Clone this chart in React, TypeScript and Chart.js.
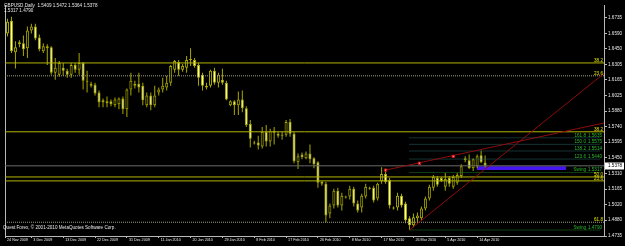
import React, { useEffect, useRef } from 'react';
import { Chart, registerables } from 'chart.js';

Chart.register(...registerables);

// ---------- data ----------
const symbol = 'GBPUSD';
const period = 'Daily';
const copyright = 'Quest Forex, \u00a9 2001-2010 MetaQuotes Software Corp.';

// one entry per daily bar, bar 0 = 24 Nov 2009 ... bar 122 = 16 Apr 2010
const opens = [
  1.6560, 1.6600, 1.6591, 1.6708, 1.6420, 1.6492, 1.6501, 1.6456, 1.6618, 1.6654,
  1.6555, 1.6429, 1.6474, 1.6465, 1.6231, 1.6212, 1.6276, 1.6249, 1.6212, 1.6303,
  1.6258, 1.6321, 1.6158, 1.6113, 1.6122, 1.6050, 1.5960, 1.5951, 1.5969, 1.5933,
  1.5942, 1.5996, 1.5897, 1.6077, 1.6131, 1.6131, 1.6113, 1.5933, 1.6023, 1.5933,
  1.6050, 1.6077, 1.6095, 1.6140, 1.6258, 1.6330, 1.6258, 1.6276, 1.6357, 1.6348,
  1.6303, 1.6212, 1.6095, 1.6113, 1.6249, 1.6140, 1.6167, 1.6140, 1.5933, 1.5969,
  1.5933, 1.5987, 1.5906, 1.5762, 1.5591, 1.5591, 1.5555, 1.5690, 1.5600, 1.5699,
  1.5672, 1.5654, 1.5663, 1.5780, 1.5672, 1.5411, 1.5483, 1.5447, 1.5492, 1.5447,
  1.5411, 1.5231, 1.5213, 1.4942, 1.5014, 1.5150, 1.5014, 1.5087, 1.5096, 1.5168,
  1.5032, 1.4996, 1.5096, 1.5177, 1.5177, 1.5078, 1.5240, 1.5303, 1.5249, 1.4996,
  1.4996, 1.5105, 1.5032, 1.4897, 1.4834, 1.4897, 1.4897, 1.4987, 1.5078, 1.5177,
  1.5267, 1.5267, 1.5186, 1.5267, 1.5186, 1.5222, 1.5285, 1.5447, 1.5429, 1.5357,
  1.5375, 1.5474, 1.5409,
];
const highs = [
  1.6640, 1.6618, 1.6726, 1.6744, 1.6519, 1.6528, 1.6573, 1.6654, 1.6681, 1.6681,
  1.6582, 1.6501, 1.6492, 1.6474, 1.6366, 1.6339, 1.6321, 1.6267, 1.6321, 1.6321,
  1.6411, 1.6330, 1.6249, 1.6149, 1.6140, 1.6068, 1.5996, 1.6014, 1.5987, 1.6005,
  1.6005, 1.6014, 1.6086, 1.6231, 1.6158, 1.6231, 1.6140, 1.6050, 1.6050, 1.6113,
  1.6095, 1.6185, 1.6203, 1.6303, 1.6348, 1.6348, 1.6312, 1.6384, 1.6456, 1.6366,
  1.6321, 1.6231, 1.6140, 1.6258, 1.6276, 1.6231, 1.6267, 1.6158, 1.5978, 1.5978,
  1.6059, 1.6068, 1.5924, 1.5798, 1.5609, 1.5654, 1.5735, 1.5753, 1.5717, 1.5735,
  1.5690, 1.5690, 1.5798, 1.5807, 1.5690, 1.5492, 1.5501, 1.5510, 1.5573, 1.5456,
  1.5420, 1.5240, 1.5231, 1.5032, 1.5168, 1.5177, 1.5131, 1.5105, 1.5195, 1.5186,
  1.5060, 1.5122, 1.5213, 1.5186, 1.5195, 1.5222, 1.5366, 1.5339, 1.5267, 1.5005,
  1.5131, 1.5122, 1.5050, 1.4915, 1.4942, 1.4951, 1.5005, 1.5096, 1.5204, 1.5294,
  1.5285, 1.5276, 1.5312, 1.5285, 1.5294, 1.5312, 1.5393, 1.5465, 1.5483, 1.5447,
  1.5483, 1.5519, 1.5472,
];
const lows = [
  1.6520, 1.6483, 1.6564, 1.6411, 1.6270, 1.6465, 1.6384, 1.6366, 1.6591, 1.6528,
  1.6429, 1.6411, 1.6303, 1.6212, 1.6167, 1.6194, 1.6203, 1.6185, 1.6185, 1.6231,
  1.6212, 1.6077, 1.6050, 1.6095, 1.6023, 1.5915, 1.5915, 1.5915, 1.5924, 1.5915,
  1.5897, 1.5852, 1.5825, 1.6023, 1.6086, 1.6050, 1.5933, 1.5915, 1.5888, 1.5915,
  1.6023, 1.6050, 1.6068, 1.6113, 1.6231, 1.6203, 1.6240, 1.6231, 1.6294, 1.6276,
  1.6113, 1.6068, 1.6077, 1.6095, 1.6122, 1.6095, 1.6122, 1.5978, 1.5924, 1.5843,
  1.5843, 1.5870, 1.5735, 1.5546, 1.5573, 1.5528, 1.5537, 1.5555, 1.5555, 1.5573,
  1.5636, 1.5618, 1.5645, 1.5645, 1.5402, 1.5348, 1.5438, 1.5438, 1.5402, 1.5357,
  1.5177, 1.5195, 1.4861, 1.4897, 1.4987, 1.4996, 1.4969, 1.5078, 1.5069, 1.5005,
  1.4951, 1.4951, 1.5078, 1.5159, 1.5041, 1.5060, 1.5213, 1.5213, 1.4987, 1.4978,
  1.4969, 1.4996, 1.4852, 1.4790, 1.4816, 1.4861, 1.4879, 1.4969, 1.5060, 1.5150,
  1.5186, 1.5231, 1.5150, 1.5186, 1.5168, 1.5204, 1.5267, 1.5411, 1.5348, 1.5330,
  1.5357, 1.5402, 1.5364,
];
const closes = [
  1.6600, 1.6501, 1.6699, 1.6429, 1.6465, 1.6510, 1.6447, 1.6618, 1.6654, 1.6546,
  1.6447, 1.6474, 1.6456, 1.6231, 1.6276, 1.6321, 1.6249, 1.6212, 1.6303, 1.6258,
  1.6321, 1.6158, 1.6149, 1.6131, 1.6041, 1.5960, 1.5978, 1.5969, 1.5942, 1.5987,
  1.5996, 1.5897, 1.6077, 1.6158, 1.6113, 1.6095, 1.5978, 1.6023, 1.5933, 1.6023,
  1.6077, 1.6113, 1.6140, 1.6294, 1.6339, 1.6258, 1.6294, 1.6348, 1.6348, 1.6294,
  1.6185, 1.6113, 1.6113, 1.6249, 1.6140, 1.6212, 1.6140, 1.5987, 1.5969, 1.5933,
  1.5987, 1.5906, 1.5753, 1.5627, 1.5582, 1.5564, 1.5690, 1.5600, 1.5699, 1.5681,
  1.5654, 1.5663, 1.5780, 1.5672, 1.5420, 1.5465, 1.5456, 1.5492, 1.5438, 1.5393,
  1.5222, 1.5213, 1.4924, 1.5014, 1.5150, 1.5014, 1.5105, 1.5096, 1.5168, 1.5032,
  1.4969, 1.5105, 1.5186, 1.5168, 1.5060, 1.5213, 1.5303, 1.5231, 1.5014, 1.4987,
  1.5105, 1.5014, 1.4879, 1.4834, 1.4906, 1.4924, 1.4987, 1.5078, 1.5186, 1.5276,
  1.5204, 1.5240, 1.5258, 1.5213, 1.5276, 1.5294, 1.5375, 1.5429, 1.5357, 1.5438,
  1.5465, 1.5411, 1.5378,
];

const dateTickBars = [0, 8, 16, 24, 32, 40, 48, 56, 64, 72, 80, 88, 96, 104, 112, 120];
const dateTickLabels = [
  '24 Nov 2009', '3 Dec 2009', '13 Dec 2009', '22 Dec 2009', '31 Dec 2009', '11 Jan 2010',
  '20 Jan 2010', '29 Jan 2010', '8 Feb 2010', '17 Feb 2010', '26 Feb 2010', '8 Mar 2010',
  '17 Mar 2010', '26 Mar 2010', '5 Apr 2010', '14 Apr 2010',
];
const priceTicks = [
  1.6735, 1.6590, 1.6450, 1.6305, 1.6165, 1.6025, 1.5880, 1.5740,
  1.5595, 1.5450, 1.5310, 1.5165, 1.5020, 1.4880, 1.4735,
];

// Fibonacci retracement levels (full width)
const fibLevels = [1.6321, 1.6203, 1.5690, 1.5276, 1.5240, 1.4861];
const fibLabels = ['38.2', '23.6', '38.2', '50.0', '23.6', '61.8'];
const fibDotted = [false, true, false, false, false, true];

// Fibonacci expansion levels and swing levels
const expLevels = [1.5635, 1.5575, 1.5514, 1.5440];
const expRatios = ['161.8', '150.0', '138.2', '123.6'];
const swingLevels = [1.5317, 1.4790];
const levelBars = [103, 150.9];

// trend lines, markers and zone
const trendABars = [97, 151.875];
const trendAPrices = [1.5339, 1.5771];
const trendBBars = [103, 151.875];
const trendBPrices = [1.4790, 1.6225];
const markerBars = [97, 105.5, 114];
const markerPrices = [1.5339, 1.5402, 1.5465];
const zoneBars = [119.9, 142.4];
const zonePrices = [1.5375, 1.5339];

// ---------- view / style ----------
const X_MIN = 1.375;
const X_MAX = 151.875;
const Y_MIN = 1.4735;
const Y_MAX = 1.6852;
const FONT = 'Liberation Sans';
const FS = 4.6;
const FS_DATE = 3.7;
const OLIVE = '#a8a800';
const AXIS = '#b8b8b8';
const TEXT = '#e8e8e8';

const fmt = (v: number) => v.toFixed(4);

const hLine = (price: number, x0: number, x1: number, color: string, dash: number[], order: number) => ({
  type: 'line' as const,
  data: [{ x: x0, y: price }, { x: x1, y: price }],
  borderColor: color,
  borderWidth: 1,
  borderDash: dash,
  pointRadius: 0,
  fill: false,
  order,
});

const textPlugin = {
  id: 'mtTexts',
  afterDraw(chart: any) {
    const { ctx, chartArea } = chart;
    const y = chart.scales.y;
    ctx.save();
    ctx.font = `${FS}px "${FONT}"`;
    ctx.textBaseline = 'middle';
    ctx.textAlign = 'left';
    ctx.fillStyle = TEXT;
    const last = closes.length - 1;
    ctx.fillText(
      `${symbol},${period}  ${fmt(opens[last])} ${fmt(highs[last])} ${fmt(lows[last])} ${fmt(closes[last])}`,
      4, 5.5,
    );
    ctx.fillText(`${fmt(swingLevels[0])} ${fmt(swingLevels[1])}`, 4, 10.5);
    ctx.fillText(copyright, 3, 227.5);

    // fib labels
    ctx.textAlign = 'right';
    ctx.fillStyle = '#e6e600';
    fibLevels.forEach((v, k) => {
      ctx.fillText(fibLabels[k], chartArea.right - 1, y.getPixelForValue(v) - 2.5);
    });
    // expansion labels
    ctx.fillStyle = '#2eb82e';
    expLevels.forEach((v, k) => {
      const py = y.getPixelForValue(v) - 2.5;
      ctx.fillText(fmt(v), chartArea.right - 2, py);
      ctx.fillText(expRatios[k], chartArea.right - 18, py);
    });
    swingLevels.forEach((v) => {
      const py = y.getPixelForValue(v) - 2.5;
      ctx.fillText(fmt(v), chartArea.right - 2, py);
      ctx.fillText('Swing', chartArea.right - 18, py);
    });

    // current price box
    const cp = closes[last];
    const py = y.getPixelForValue(cp);
    ctx.fillStyle = '#ffffff';
    ctx.fillRect(chartArea.right + 1, Math.round(py) - 3.5, 19, 7);
    ctx.fillStyle = '#000000';
    ctx.textAlign = 'left';
    ctx.fillText(fmt(cp), chartArea.right + 4, py);
    ctx.restore();
  },
};

export default function App() {
  const ref = useRef<HTMLCanvasElement | null>(null);

  useEffect(() => {
    if (!ref.current) return;
    const idx = opens.map((_, i) => i);
    const datasets: any[] = [];

    // zone (behind everything)
    datasets.push({
      type: 'line',
      data: zoneBars.map((b) => ({ x: b, y: zonePrices[0] })),
      borderColor: '#4614f0', borderWidth: 0, pointRadius: 0, fill: false, order: 21,
    });
    datasets.push({
      type: 'line',
      data: zoneBars.map((b) => ({ x: b, y: zonePrices[1] })),
      borderColor: '#4614f0', borderWidth: 0, pointRadius: 0,
      fill: '-1', backgroundColor: '#4614f0', order: 20,
    });

    // candles
    datasets.push({
      type: 'bar',
      data: idx.map((i) => ({ x: i, y: [lows[i], highs[i]] })),
      backgroundColor: OLIVE,
      borderWidth: 0,
      barThickness: 1,
      inflateAmount: 0,
      grouped: false,
      minBarLength: 1,
      order: 6,
    });
    datasets.push({
      type: 'bar',
      data: idx.map((i) => ({ x: i, y: [opens[i], closes[i]] })),
      backgroundColor: idx.map((i) => (closes[i] >= opens[i] ? '#000000' : '#ffffb0')),
      borderColor: OLIVE,
      borderWidth: 1,
      borderSkipped: false,
      barThickness: 3,
      inflateAmount: 0,
      grouped: false,
      minBarLength: 1,
      order: 5,
    });

    // fib retracement lines
    fibLevels.forEach((v, k) => {
      datasets.push(hLine(v, X_MIN, X_MAX, fibDotted[k] ? '#a0a080' : '#b4b400', fibDotted[k] ? [1, 1] : [], 3));
    });
    // expansion lines
    expLevels.forEach((v) => {
      datasets.push(hLine(v, levelBars[0], levelBars[1], '#2a6464', [1, 1], 3));
    });
    swingLevels.forEach((v) => {
      datasets.push(hLine(v, levelBars[0], levelBars[1], '#1f7a1f', [1, 1], 3));
    });
    // current price line
    datasets.push(hLine(closes[closes.length - 1], X_MIN, X_MAX, '#6a6a6a', [], 4));

    // trend lines
    datasets.push({
      type: 'line',
      data: trendABars.map((b, k) => ({ x: b, y: trendAPrices[k] })),
      borderColor: '#8e0c0c', borderWidth: 1, pointRadius: 0, fill: false, order: 1,
    });
    datasets.push({
      type: 'line',
      data: trendBBars.map((b, k) => ({ x: b, y: trendBPrices[k] })),
      borderColor: '#8e0c0c', borderWidth: 1, pointRadius: 0, fill: false, order: 1,
    });
    // markers
    datasets.push({
      type: 'line',
      showLine: false,
      data: markerBars.map((b, k) => ({ x: b, y: markerPrices[k] })),
      pointStyle: 'rect',
      pointRadius: 1.6,
      pointBackgroundColor: '#ff9a9a',
      pointBorderColor: '#d01010',
      pointBorderWidth: 1,
      order: 0,
    });

    const tickFont = { family: FONT, size: FS };

    const chart = new Chart(ref.current, {
      type: 'bar',
      data: { datasets },
      options: {
        animation: false,
        responsive: false,
        maintainAspectRatio: false,
        events: [],
        layout: { padding: { left: 1, top: 1, right: 0, bottom: 0 } },
        plugins: {
          legend: { display: false },
          tooltip: { enabled: false },
          title: { display: false },
        },
        scales: {
          x: {
            type: 'linear',
            position: 'bottom',
            min: X_MIN,
            max: X_MAX,
            offset: false,
            grid: { display: true, drawOnChartArea: false, drawTicks: true, tickLength: 2, color: AXIS, offset: false },
            border: { display: true, color: AXIS },
            ticks: {
              autoSkip: false,
              maxRotation: 0,
              minRotation: 0,
              align: 'start',
              labelOffset: 2,
              padding: 0,
              color: TEXT,
              font: { family: FONT, size: FS_DATE },
              callback: (_v: any, i: number) => dateTickLabels[i],
            },
            afterBuildTicks: (s: any) => {
              s.ticks = dateTickBars.map((b) => ({ value: Math.max(b, X_MIN) }));
            },
            afterFit: (s: any) => {
              s.height = 10;
              s.paddingLeft = 0;
              s.paddingRight = 0;
            },
          },
          y: {
            type: 'linear',
            position: 'right',
            min: Y_MIN,
            max: Y_MAX,
            grid: { display: true, drawOnChartArea: false, drawTicks: true, tickLength: 3, color: AXIS },
            border: { display: true, color: AXIS },
            ticks: {
              autoSkip: false,
              padding: 1,
              color: TEXT,
              font: tickFont,
              callback: (v: any) => Number(v).toFixed(4),
            },
            afterBuildTicks: (s: any) => {
              s.ticks = priceTicks.map((v) => ({ value: v }));
            },
            afterFit: (s: any) => {
              s.width = 21;
              s.paddingTop = 0;
              s.paddingBottom = 0;
            },
          },
          yl: {
            type: 'linear',
            position: 'left',
            display: true,
            ticks: { display: false },
            grid: { display: false, drawTicks: false },
            border: { display: true, color: AXIS },
            afterFit: (s: any) => {
              s.width = 1;
              s.paddingTop = 0;
              s.paddingBottom = 0;
            },
          },
        },
      } as any,
      plugins: [textPlugin],
    });
    return () => chart.destroy();
  }, []);

  return (
    <div style={{ position: 'fixed', left: 0, top: 0, width: 625, height: 246, background: '#000' }}>
      <canvas ref={ref} width={625} height={246} style={{ display: 'block' }} />
    </div>
  );
}
